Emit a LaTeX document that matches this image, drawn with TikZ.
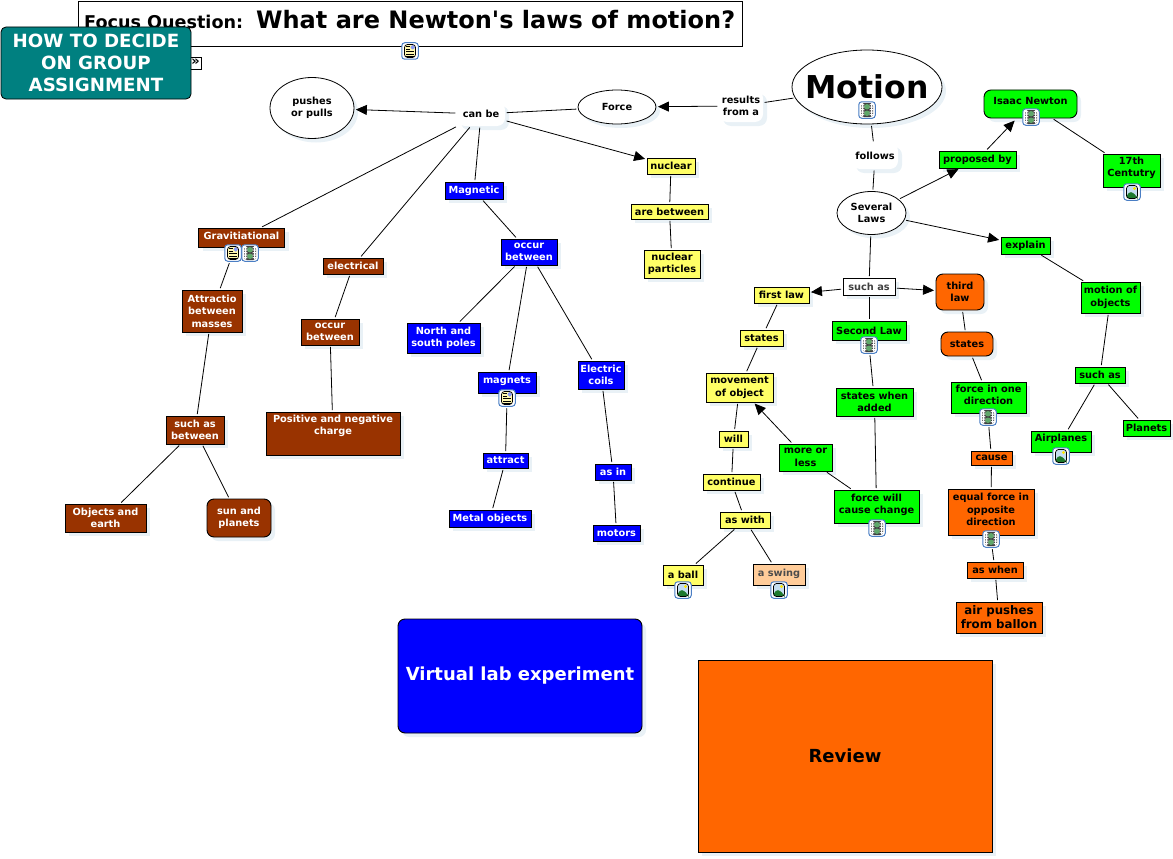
\documentclass[tikz,border=0pt]{standalone}
\usepackage{fontspec}
\usepackage{xcolor}
\usetikzlibrary{arrows.meta,shapes,shadows}
\setmainfont{DejaVu Sans}
\newfontfamily\titlefont{DejaVu Sans}
\definecolor{ink}{HTML}{000000}
\definecolor{softshade}{HTML}{E9F1F6}
\definecolor{tealbg}{HTML}{008080}
\definecolor{greenbg}{HTML}{00FF00}
\definecolor{yellowbg}{HTML}{FFFF66}
\definecolor{bluebg}{HTML}{0000FF}
\definecolor{brownbg}{HTML}{993300}
\definecolor{orangebg}{HTML}{FF6600}
\definecolor{peachbg}{HTML}{FFCC99}
\definecolor{iconblue}{HTML}{4A7EC4}
\definecolor{filmgreen}{HTML}{5FA86A}
\definecolor{hillgreen}{HTML}{1E7A2E}
\definecolor{skyblue}{HTML}{C4DDF0}
\definecolor{paperyellow}{HTML}{FFF8B0}
\tikzset{
  softshadow/.style={drop shadow={shadow xshift=4pt,shadow yshift=-4pt,fill=softshade,opacity=1}},
  plainbox/.style={draw=ink,line width=0.9pt,inner sep=0pt,align=center,text=ink,
                   font=\fontsize{9.8}{12.4}\selectfont\bfseries,softshadow},
  greenbox/.style={plainbox,fill=greenbg},
  yellowbox/.style={plainbox,fill=yellowbg},
  orangebox/.style={plainbox,fill=orangebg},
  bluebox/.style={plainbox,fill=bluebg,text=white},
  brownbox/.style={plainbox,fill=brownbg,text=white},
  roundedbox/.style={rounded corners=7pt},
  ovalnode/.style={ellipse,draw=ink,line width=0.8pt,fill=white,inner sep=0pt,align=center,
                   font=\fontsize{9.8}{12.4}\selectfont\bfseries,softshadow},
  wordnode/.style={fill=white,inner sep=0pt,align=center,rounded corners=8pt,
                   font=\fontsize{9.8}{12.4}\selectfont\bfseries,softshadow},
  textup/.style={text depth=#1},
  link/.style={line width=0.8pt,shorten >=1.5pt,shorten <=1.5pt},
  linkarr/.style={link,-{Triangle[length=11pt,width=10pt]}},
  iconbox/.style={draw=iconblue,fill=white,line width=1pt,rounded corners=3pt,
                  minimum size=16.5pt,inner sep=0pt},
  filmicon/.style={iconbox,path picture={
    \begin{scope}[shift={(path picture bounding box.center)}]
      \fill[black!75] (-6,-7) rectangle (6,7);
      \fill[filmgreen] (-3,-6) rectangle (3,-0.5);
      \fill[filmgreen] (-3,0.5) rectangle (3,6);
      \foreach \yy in {-6,-3.5,...,6}{
        \fill[white] (-5.2,\yy) rectangle +(1.2,1.2);
        \fill[white] (4,\yy) rectangle +(1.2,1.2);
      }
    \end{scope}}},
  imageicon/.style={iconbox,path picture={
    \begin{scope}[shift={(path picture bounding box.center)}]
      \fill[skyblue] (-5.5,-6.5) rectangle (5.5,6.5);
      \fill[yellow!90!orange] (2.5,-3.5) circle (1.7);
      \fill[hillgreen] (-5.5,6.5) -- (-5.5,3) -- (-1,-1) -- (5.5,5) -- (5.5,6.5) -- cycle;
      \draw[black,line width=0.7pt] (-5.5,-6.5) rectangle (5.5,6.5);
    \end{scope}}},
  docicon/.style={iconbox,path picture={
    \begin{scope}[shift={(path picture bounding box.center)}]
      \fill[paperyellow] (-5.5,-6.5) rectangle (5.5,6.5);
      \fill[skyblue!70!blue] (0.5,-6) rectangle (5,-1.5);
      \foreach \yy in {-4.5,-2,0.5,3,5}{
        \draw[black,line width=0.6pt] (-4,\yy) -- (0,\yy);
      }
      \foreach \yy in {0.5,3,5}{
        \draw[black,line width=0.6pt] (0,\yy) -- (4,\yy);
      }
      \draw[black,line width=0.7pt] (-5.5,-6.5) rectangle (5.5,6.5);
    \end{scope}}}
}
\begin{document}
\begin{tikzpicture}[x=1pt,y=-1pt]
  \useasboundingbox (0,0) rectangle (1173,859);
  \node[draw=ink,line width=1pt,fill=white,inner sep=0pt,minimum width=664pt,minimum height=45.5pt] (focusbox) at (410,23.8) {};
  \node[anchor=base west,inner sep=0pt,font=\titlefont\bfseries] (focustext) at (84,29)
    {\fontsize{17.6}{18}\selectfont Focus Question:\hspace{13pt}\fontsize{24}{26}\selectfont What are Newton's laws of motion?};
  \node[docicon] (focusdoc) at (410,51) {};
  \node[draw=ink,line width=0.8pt,fill=white,inner sep=0pt,minimum width=12pt,minimum height=12pt,font=\fontsize{13}{13}\selectfont\bfseries] (morebtn) at (195.5,63) {\raisebox{1pt}{»}};
  \node[draw=ink,line width=0.8pt,fill=tealbg,text=white,rounded corners=5pt,inner sep=0pt,align=center,
        minimum width=190pt,minimum height=72pt,font=\fontsize{18.2}{22}\selectfont\bfseries] (howto) at (96,63) {HOW TO DECIDE\\ON GROUP\\ASSIGNMENT};

  \node[ovalnode,minimum width=84pt,minimum height=61pt] (pushes) at (312,108) {pushes\\or pulls};
  \node[wordnode,minimum width=48pt,minimum height=24pt] (canbe) at (481,114) {can be};
  \node[ovalnode,minimum width=78pt,minimum height=34pt] (force) at (617,107) {Force};
  \node[wordnode,minimum width=44pt,minimum height=32pt] (results) at (741,106) {results\\from a};
  \node[ovalnode,minimum width=150pt,minimum height=74pt,font=\fontsize{31.5}{34}\selectfont\bfseries] (motion) at (867,87) {\makebox[0pt]{Motion}};
  \node[filmicon] (motionfilm) at (867,110) {};
  \node[wordnode,minimum width=46pt,minimum height=26pt] (follows) at (875,156) {follows};
  \node[ovalnode,minimum width=69pt,minimum height=43pt] (laws) at (871.5,213) {Several\\Laws};

  \node[greenbox,minimum width=77pt,minimum height=17pt] (proposed) at (977.5,159.5) {proposed by};
  \node[greenbox,roundedbox,textup=7pt,minimum width=93pt,minimum height=28pt] (newton) at (1030.5,104) {Isaac Newton};
  \node[filmicon] (newtonfilm) at (1031,117) {};
  \node[greenbox,textup=8pt,minimum width=57pt,minimum height=33pt] (century) at (1131.5,170.5) {17th\\Centutry};
  \node[imageicon] (centuryimg) at (1132,192) {};
  \node[greenbox,minimum width=49pt,minimum height=17pt] (explain) at (1025.5,245.5) {explain};
  \node[greenbox,minimum width=59pt,minimum height=31pt] (objects) at (1110.5,297.5) {motion of\\objects};
  \node[greenbox,minimum width=50pt,minimum height=16pt] (suchasg) at (1100,375) {such as};
  \node[greenbox,textup=8pt,minimum width=60pt,minimum height=21pt] (airplanes) at (1061,441.5) {Airplanes};
  \node[imageicon] (airplanesimg) at (1061,456) {};
  \node[greenbox,minimum width=47pt,minimum height=16pt] (planets) at (1146.5,428) {Planets};

  \node[plainbox,fill=white,text=black!75,minimum width=52pt,minimum height=17pt] (suchas) at (869,286.5) {such as};
  \node[orangebox,roundedbox,minimum width=48pt,minimum height=36pt] (third) at (960,292) {third\\law};
  \node[yellowbox,minimum width=55pt,minimum height=16pt] (firstlaw) at (781.5,295) {first law};
  \node[greenbox,minimum width=74pt,minimum height=19pt] (second) at (869,330.5) {Second Law};
  \node[filmicon] (secondfilm) at (869,345) {};
  \node[yellowbox,minimum width=43pt,minimum height=16pt] (statesy) at (761.5,338) {states};
  \node[yellowbox,minimum width=67pt,minimum height=29pt] (movement) at (739.5,387.5) {movement\\of object};
  \node[greenbox,minimum width=77pt,minimum height=28pt] (added) at (874.5,402) {states when\\added};
  \node[orangebox,roundedbox,minimum width=52pt,minimum height=24pt] (stateso) at (967,344) {states};
  \node[greenbox,textup=5pt,minimum width=75pt,minimum height=31pt] (onedir) at (988.5,397.5) {force in one\\direction};
  \node[filmicon] (onedirfilm) at (988,417) {};
  \node[orangebox,minimum width=41pt,minimum height=14pt] (cause) at (991.5,458) {cause};
  \node[orangebox,textup=5pt,minimum width=86pt,minimum height=46pt] (opposite) at (991,512) {equal force in\\opposite\\direction};
  \node[filmicon] (oppositefilm) at (991,539) {};
  \node[orangebox,minimum width=56pt,minimum height=16pt] (aswhen) at (995,570) {as when};
  \node[orangebox,font=\fontsize{11.8}{14}\selectfont\bfseries,minimum width=86pt,minimum height=31pt] (air) at (999,617.5) {air pushes\\from ballon};
  \node[greenbox,minimum width=53pt,minimum height=27pt] (moreless) at (805.5,457.5) {more or\\less};
  \node[greenbox,textup=5pt,minimum width=85pt,minimum height=33pt] (change) at (876.5,506.5) {force will\\cause change};
  \node[filmicon] (changefilm) at (877,528) {};
  \node[yellowbox,minimum width=29pt,minimum height=16pt] (will) at (733.5,439) {will};
  \node[yellowbox,minimum width=57pt,minimum height=16pt] (continue) at (731.5,482) {continue};
  \node[yellowbox,minimum width=50pt,minimum height=16pt] (aswith) at (745,520) {as with};
  \node[yellowbox,minimum width=40pt,minimum height=20pt] (ball) at (683,575) {a ball};
  \node[imageicon] (ballimg) at (683,590) {};
  \node[plainbox,fill=peachbg,text=black!70,textup=4pt,minimum width=52pt,minimum height=21pt] (swing) at (779,574.5) {a swing};
  \node[imageicon] (swingimg) at (779,590) {};

  \node[yellowbox,minimum width=48pt,minimum height=16pt] (nuclear) at (671,166) {nuclear};
  \node[yellowbox,minimum width=77pt,minimum height=15pt] (arebetween) at (669.5,211.5) {are between};
  \node[yellowbox,minimum width=56pt,minimum height=28pt] (particles) at (672,264) {nuclear\\particles};
  \node[bluebox,minimum width=58pt,minimum height=17pt] (magnetic) at (474,190.5) {Magnetic};
  \node[bluebox,minimum width=56pt,minimum height=26pt] (occurb) at (529,252) {occur\\between};
  \node[bluebox,minimum width=73pt,minimum height=30pt] (poles) at (443.5,338) {North and\\south poles};
  \node[bluebox,textup=5pt,minimum width=58pt,minimum height=21pt] (magnets) at (507,382.5) {magnets};
  \node[docicon] (magnetsdoc) at (507,398) {};
  \node[bluebox,minimum width=46pt,minimum height=28pt] (coils) at (601,375) {Electric\\coils};
  \node[bluebox,minimum width=45pt,minimum height=15pt] (attract) at (505.5,460.5) {attract};
  \node[bluebox,minimum width=82pt,minimum height=17pt] (metal) at (490,518.5) {Metal objects};
  \node[bluebox,minimum width=36pt,minimum height=16pt] (asin) at (613,472) {as in};
  \node[bluebox,minimum width=47pt,minimum height=16pt] (motors) at (616.5,533) {motors};

  \node[brownbox,textup=4pt,minimum width=86pt,minimum height=19pt] (gravity) at (241.5,237.5) {Gravitiational};
  \node[docicon] (gravitydoc) at (233,253) {};
  \node[filmicon] (gravityfilm) at (250,253) {};
  \node[brownbox,minimum width=60pt,minimum height=16pt] (electrical) at (353,266) {electrical};
  \node[brownbox,minimum width=60pt,minimum height=42pt] (attractio) at (212,311) {Attractio\\between\\masses};
  \node[brownbox,minimum width=58pt,minimum height=26pt] (occurr) at (330,332) {occur\\between};
  \node[brownbox,textup=17pt,minimum width=134pt,minimum height=43pt] (charge) at (333,433.5) {Positive and negative\\charge};
  \node[brownbox,minimum width=58pt,minimum height=28pt] (suchasb) at (195,430) {such as\\between};
  \node[brownbox,minimum width=81pt,minimum height=28pt] (earth) at (105.5,518) {Objects and\\earth};
  \node[brownbox,roundedbox,minimum width=64pt,minimum height=38pt] (sun) at (239,518) {sun and\\planets};

  \node[bluebox,rounded corners=7pt,font=\fontsize{18}{22}\selectfont\bfseries,minimum width=244pt,minimum height=114pt] (virtual) at (520,676) {Virtual lab experiment};
  \node[orangebox,font=\fontsize{18}{22}\selectfont\bfseries,minimum width=294pt,minimum height=192pt] (review) at (845,756) {Review};

  \draw[linkarr] (canbe) -- (pushes);
  \draw[link] (force) -- (canbe);
  \draw[linkarr] (results) -- (force);
  \draw[link] (motion) -- (results);
  \draw[link] (motion) -- (follows);
  \draw[link] (follows) -- (laws);
  \draw[linkarr] (laws) -- (proposed);
  \draw[linkarr,shorten >=3pt] (proposed) -- (newton);
  \draw[link] (newton) -- (century);
  \draw[linkarr] (laws) -- (explain);
  \draw[link] (explain) -- (objects);
  \draw[link] (objects) -- (suchasg);
  \draw[link] (suchasg) -- (airplanes);
  \draw[link] (suchasg) -- (planets);
  \draw[link] (laws) -- (suchas);
  \draw[linkarr] (suchas) -- (firstlaw);
  \draw[linkarr] (suchas) -- (third);
  \draw[link] (suchas) -- (second);
  \draw[link] (firstlaw) -- (statesy);
  \draw[link] (statesy) -- (movement);
  \draw[link] (movement) -- (will);
  \draw[link] (will) -- (continue);
  \draw[link] (continue) -- (aswith);
  \draw[link] (aswith) -- (ball);
  \draw[link] (aswith) -- (swing);
  \draw[link] (secondfilm) -- (added);
  \draw[link] (added) -- (change);
  \draw[link] (change) -- (moreless);
  \draw[linkarr] (moreless) -- (movement);
  \draw[link] (third) -- (stateso);
  \draw[link] (stateso) -- (onedir);
  \draw[link] (onedirfilm) -- (cause);
  \draw[link] (cause) -- (opposite);
  \draw[link] (oppositefilm) -- (aswhen);
  \draw[link] (aswhen) -- (air);
  \draw[link] (canbe) -- (gravity);
  \draw[link] (canbe) -- (electrical);
  \draw[link] (canbe) -- (magnetic);
  \draw[linkarr] (canbe) -- (nuclear);
  \draw[link] (magnetic) -- (occurb);
  \draw[link] (occurb) -- (poles);
  \draw[link] (occurb) -- (magnets);
  \draw[link] (occurb) -- (coils);
  \draw[link] (magnetsdoc) -- (attract);
  \draw[link] (attract) -- (metal);
  \draw[link] (coils) -- (asin);
  \draw[link] (asin) -- (motors);
  \draw[link] (nuclear) -- (arebetween);
  \draw[link] (arebetween) -- (particles);
  \draw[link] (gravitydoc) -- (attractio);
  \draw[link] (attractio) -- (suchasb);
  \draw[link] (suchasb) -- (earth);
  \draw[link] (suchasb) -- (sun);
  \draw[link] (electrical) -- (occurr);
  \draw[link] (occurr) -- (charge);
\end{tikzpicture}
\end{document}
